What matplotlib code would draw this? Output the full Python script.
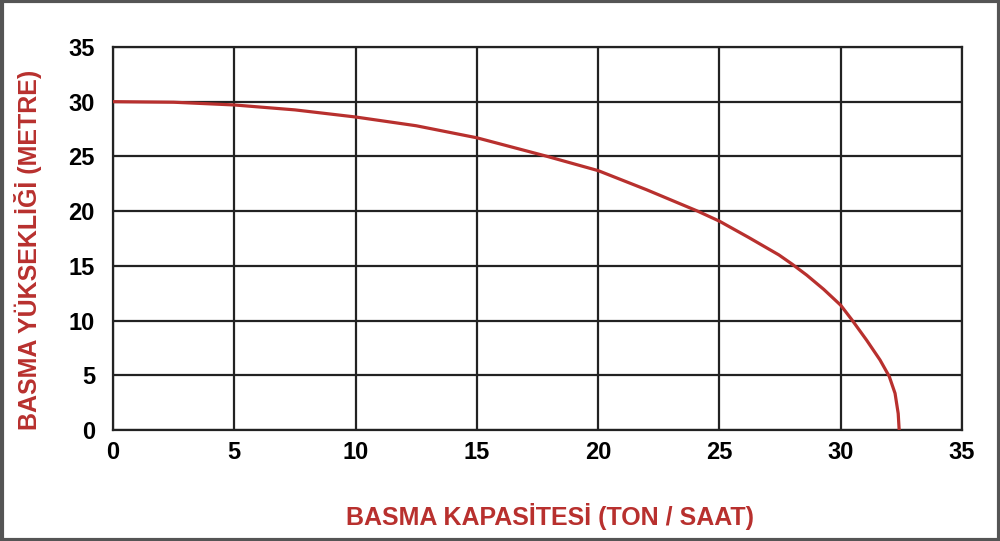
import matplotlib.pyplot as plt
from matplotlib.patches import Rectangle

# pump curve
capacity = [0, 2.5, 5, 7.5, 10, 12.5, 15, 17.9, 20, 22, 24.1, 25, 26.2, 27.45, 28.0, 28.6, 29.3,
            30, 30.45, 31.07, 31.62, 32.0, 32.24, 32.37, 32.41]
head = [30, 29.95, 29.7, 29.25, 28.6, 27.8, 26.7, 25, 23.7, 21.95, 20, 19.08, 17.6, 16.0, 15.15, 14.15, 12.85,
        11.4, 10.1, 8.2, 6.4, 4.9, 3.35, 1.5, 0]
xticks = [0, 5, 10, 15, 20, 25, 30, 35]
yticks = [0, 5, 10, 15, 20, 25, 30, 35]

red = '#b8302e'
plt.rcParams['font.family'] = ['Liberation Sans', 'DejaVu Sans']

fig = plt.figure(figsize=(10, 5.41), dpi=100)
ax = fig.add_axes([0.113, 0.2052, 0.849, 0.708])

ax.plot(capacity, head, color=red, linewidth=2.3, solid_capstyle='butt',
        solid_joinstyle='round', zorder=3)

ax.set_xlim(0, 35)
ax.set_ylim(0, 35)
ax.set_xticks(xticks)
ax.set_yticks(yticks)
ax.grid(True, color='#222222', linewidth=1.6)
for s in ax.spines.values():
    s.set_color('#222222')
    s.set_linewidth(1.6)
ax.tick_params(length=0, labelsize=17, pad=8)
ax.tick_params(axis='y', pad=13)
for lab in ax.get_xticklabels() + ax.get_yticklabels():
    lab.set_fontweight('bold')

fig.text(0.028, 1 - 250 / 541, 'BASMA YÜKSEKLİĞİ (METRE)', rotation=90, color=red,
         fontsize=18, fontweight='bold', ha='center', va='center')
fig.text(0.550, 1 - 516 / 541, 'BASMA KAPASİTESİ (TON / SAAT)', color=red,
         fontsize=18, fontweight='bold', ha='center', va='center')

# dark frame round the picture
fig.patches.append(Rectangle((0.0015, 0.0025), 0.997, 0.995, transform=fig.transFigure,
                             fill=False, edgecolor='#555555', linewidth=3))

fig.savefig('out.png', dpi=100)
